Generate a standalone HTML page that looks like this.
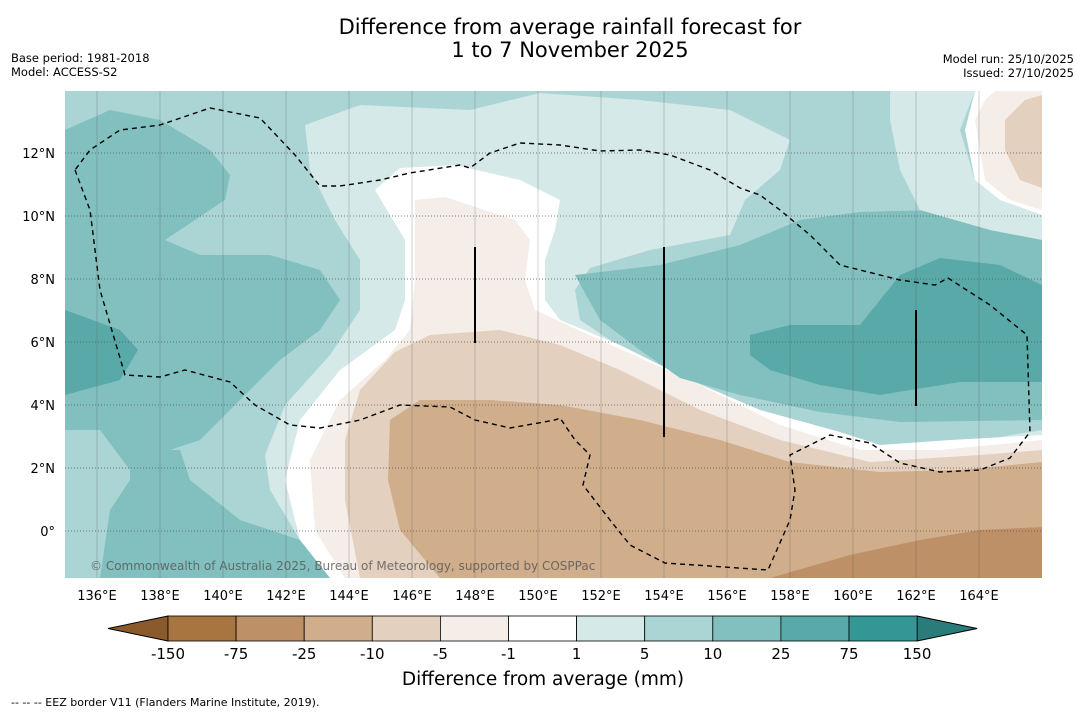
<!DOCTYPE html>
<html><head><meta charset="utf-8"><style>
body{margin:0;background:#fff;width:1085px;height:713px;overflow:hidden;font-family:"DejaVu Sans","Liberation Sans",sans-serif}
</style></head><body>
<svg id="svg" width="1085" height="713" viewBox="0 0 1085 713" xmlns="http://www.w3.org/2000/svg">
<text x="570" y="34" font-size="21" text-anchor="middle" fill="#000">Difference from average rainfall forecast for</text>
<text x="570" y="57" font-size="21" text-anchor="middle" fill="#000">1 to 7 November 2025</text>
<text x="11" y="62" font-size="11.5">Base period: 1981-2018</text>
<text x="11" y="76" font-size="11.5">Model: ACCESS-S2</text>
<text x="1074" y="63" font-size="11.5" text-anchor="end">Model run: 25/10/2025</text>
<text x="1074" y="77" font-size="11.5" text-anchor="end">Issued: 27/10/2025</text>
<defs><clipPath id="mc"><rect x="65" y="91" width="977" height="487"/></clipPath></defs>
<g clip-path="url(#mc)">
<rect x="65" y="91" width="977" height="487" fill="#aad5d4"/>
<polygon fill="#81c0be" points="65,130 110,110 160,120 210,150 230,175 225,200 165,240 200,255 270,255 320,270 340,300 320,330 280,360 240,400 200,440 170,450 130,470 100,430 65,430"/>
<polygon fill="#81c0be" points="130,450 180,450 190,480 240,520 300,540 340,578 100,578 110,510 130,480"/>
<polygon fill="#58a9a8" points="65,310 120,330 138,350 120,380 65,395"/>
<polygon fill="#d4e9e8" points="305,125 360,105 470,110 540,93 640,100 730,110 790,140 780,170 745,200 730,235 650,250 590,268 575,290 580,320 640,360 690,395 760,425 820,445 880,460 950,445 1042,430 1042,578 345,578 300,540 270,490 265,455 285,405 330,355 360,310 360,260 335,220 310,170"/>
<polygon fill="#ffffff" points="375,190 400,168 455,165 520,180 560,200 555,230 545,260 545,300 560,320 620,345 690,380 760,410 840,432 880,445 950,440 1042,435 1042,578 330,578 300,540 285,480 300,420 340,370 395,330 405,300 405,240"/>
<polygon fill="#f4ede8" points="415,200 445,197 515,220 530,240 525,280 535,310 600,340 700,385 780,425 860,450 940,450 1042,440 1042,578 345,578 315,530 310,460 340,400 385,360 410,330 415,280"/>
<polygon fill="#e4d0bf" points="395,352 430,335 500,330 560,345 620,370 700,410 780,440 870,462 980,455 1042,450 1042,578 360,578 345,500 345,440 360,390"/>
<polygon fill="#d0ae8c" points="390,420 420,400 490,400 560,405 640,420 720,440 790,462 880,472 960,470 1042,462 1042,578 440,578 400,530 388,480"/>
<polygon fill="#bd9068" points="770,578 850,555 920,540 980,530 1042,527 1042,578"/>
<polygon fill="#81c0be" points="575,275 660,265 740,245 800,220 860,212 940,210 1010,220 1042,240 1042,420 900,422 820,412 740,395 680,378 640,350 600,320"/>
<polygon fill="#58a9a8" points="750,335 790,325 860,325 900,275 940,258 1000,265 1042,285 1042,382 960,382 880,395 820,385 770,370 750,355"/>
<polygon fill="#d4e9e8" points="890,91 975,91 960,130 975,180 1000,200 1042,215 1042,240 990,230 920,210 900,170 890,120"/>
<polygon fill="#ffffff" points="975,91 1042,91 1042,215 1000,200 975,180 965,130"/>
<polygon fill="#f4ede8" points="995,91 1042,91 1042,210 1010,200 985,180 975,120 985,100"/>
<polygon fill="#e4d0bf" points="1042,95 1042,188 1020,180 1005,150 1005,120 1025,100"/>
<g id="grid"></g>
<g stroke="#000" stroke-width="2">
<line x1="475" y1="247" x2="475" y2="343"/><line x1="664" y1="247" x2="664" y2="437"/><line x1="916" y1="310" x2="916" y2="406"/></g>
<polyline fill="none" stroke="#000" stroke-width="1.4" stroke-dasharray="5,4" points="75,170 90,210 100,290 125,375 160,377 185,370 230,382 255,405 290,425 320,428 360,420 400,405 450,407 475,420 510,428 555,420 560,418 575,440 590,455 583,485 610,520 630,545 665,563 768,570 790,520 795,490 790,455 830,435 870,443 900,463 940,472 980,470 1010,458 1030,432 1027,335 990,305 948,278 935,285 900,280 840,265 810,235 780,210 760,195 740,188 710,170 670,155 640,150 600,151 560,145 520,143 490,153 470,168 460,165 410,173 380,180 340,186 320,186 295,155 260,118 210,108 160,125 120,130 90,150 75,170"/>
<text x="90" y="570" font-size="12" fill="#555" fill-opacity="0.8">© Commonwealth of Australia 2025, Bureau of Meteorology, supported by COSPPac</text>
</g>
<g id="ticks"></g>
<g id="cbar"></g>
<text x="543" y="685" font-size="18.5" text-anchor="middle">Difference from average (mm)</text>
<text x="11" y="706" font-size="11">--  --  -- EEZ border V11 (Flanders Marine Institute, 2019).</text>
</svg>
<script>
const lonTicks=[136,138,140,142,144,146,148,150,152,154,156,158,160,162,164];
const latTicks=[12,10,8,6,4,2,0];
const levelLabels=["-150","-75","-25","-10","-5","-1","1","5","10","25","75","150"];
const levelColors=["#a8743f","#bd9068","#d0ae8c","#e4d0bf","#f4ede8","#ffffff","#d4e9e8","#aad5d4","#81c0be","#58a9a8","#339895"];
const NS="http://www.w3.org/2000/svg";
const xLon=l=>65.5+(l-135)*31.5, yLat=l=>531-l*31.5;
function mk(t,a,p){const e=document.createElementNS(NS,t);for(const k in a)e.setAttribute(k,a[k]);p.appendChild(e);return e;}
const grid=document.getElementById('grid'),ticks=document.getElementById('ticks'),cb=document.getElementById('cbar');
lonTicks.forEach(l=>{
 const ln=mk('line',{x1:xLon(l),x2:xLon(l),y1:91,y2:578,stroke:'#555','stroke-opacity':0.35,'stroke-width':0.8},grid);
 
 
 const t=mk('text',{x:xLon(l),y:600,'font-size':13,'text-anchor':'middle'},ticks);t.textContent=l+'°E';
 
 
});
latTicks.forEach(l=>{
 const ln=mk('line',{x1:65,x2:1042,y1:yLat(l),y2:yLat(l),stroke:'#555','stroke-width':0.8,'stroke-dasharray':'1,2'},grid);
 
 
 const t=mk('text',{x:55,y:yLat(l)+5,'font-size':13,'text-anchor':'end'},ticks);t.textContent=l===0?'0°':l+'°N';
 
 
});
const x0=168,w=68.1,y0=616,h=25;
const lt=mk('polygon',{points:`108,${y0+h/2} ${x0},${y0} ${x0},${y0+h}`,fill:'#8a5a2c',stroke:'#000','stroke-width':1},cb);


const rt=mk('polygon',{points:`${x0+11*w},${y0} ${x0+11*w+60},${y0+h/2} ${x0+11*w},${y0+h}`,fill:'#2a7c7a',stroke:'#000','stroke-width':1},cb);


levelColors.forEach((c,i)=>{
 const r=mk('rect',{x:x0+i*w,y:y0,width:w,height:h,fill:c,stroke:'#000','stroke-width':0.8},cb);
 
 
});
levelLabels.forEach((s,i)=>{
 const t=mk('text',{x:x0+i*w,y:659,'font-size':15,'text-anchor':'middle'},cb);t.textContent=s;
 
 
});
</script>
</body></html>
